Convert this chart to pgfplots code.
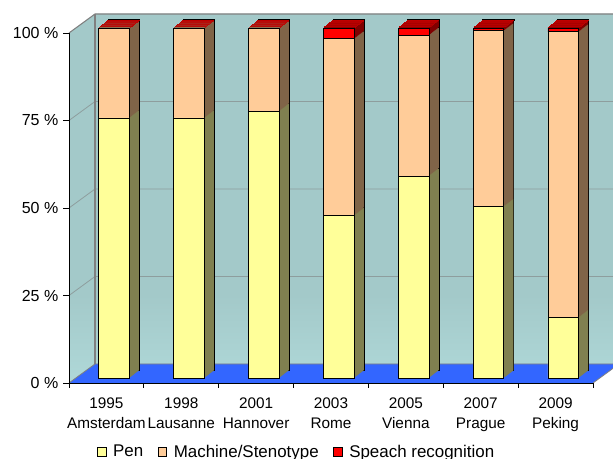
\documentclass[border=0pt]{standalone}
\usepackage{pgfplots}
\usepackage{pgfplotstable}
\pgfplotsset{compat=1.18}
\usepackage{fontspec}
\setmainfont{Liberation Sans}

\definecolor{penF}{HTML}{FFFF99}
\definecolor{penS}{HTML}{808050}
\definecolor{macF}{HTML}{FFCC99}
\definecolor{macS}{HTML}{806448}
\definecolor{spF}{HTML}{FF0000}
\definecolor{spS}{HTML}{800000}
\definecolor{spT}{HTML}{C00000}
\definecolor{wall}{HTML}{A3C9C9}
\definecolor{wallb}{HTML}{C8F8F8}
\definecolor{floorc}{HTML}{3366FF}
\definecolor{gridc}{HTML}{8E9E9E}

\pgfdeclareverticalshading{wallshade}{100bp}{color(0bp)=(wallb); color(37bp)=(wall); color(100bp)=(wall)}

% cap = near-zero helper row that marks the top face of each column
\pgfplotstableread{
x pen mac sp cap
0 74.3 25.7 0 0.001
1 74.3 25.7 0 0.001
2 76.2 23.8 0 0.001
3 46.4 50.5 3.1 0.001
4 57.7 40.2 2.1 0.001
5 49.0 50.2 0.8 0.001
6 17.3 81.6 1.1 0.001
}\data

\pgfplotsset{
  layer/.style={at={#1}, anchor=south west, scale only axis,
    width=393pt, height=262.5pt, xmin=-0.5, xmax=6.5, ymin=0, ymax=100,
    hide axis, clip=false, ybar stacked, bar width=23pt,
    every axis plot/.append style={line width=0.6pt}}
}

\begin{document}
\begin{tikzpicture}
\useasboundingbox (-51.75pt,-57pt) rectangle (408pt,287.25pt);
\begin{axis}[
  at={(0,0)}, anchor=south west, scale only axis,
  width=393pt, height=262.5pt,
  xmin=-0.5, xmax=6.5, ymin=0, ymax=100,
  clip=false, axis on top,
  axis x line*=bottom, axis y line*=left,
  axis line style={black, line width=0.6pt, -},
  tick align=outside,
  xtick={0,...,6},
  xticklabels={{1995\\Amsterdam},{1998\\Lausanne},{2001\\Hannover},{2003\\Rome},{2005\\Vienna},{2007\\Prague},{2009\\Peking}},
  xticklabel style={align=center, font=\fontsize{11.5}{15}\selectfont, yshift=-3pt},
  major x tick style={draw=none},
  minor xtick={-0.5,0.5,...,6.5},
  minor x tick style={black, line width=0.6pt},
  minor tick length=3.75pt,
  major tick length=4.5pt,
  ytick={0,25,50,75,100},
  yticklabels={0 \%,25 \%,50 \%,75 \%,100 \%},
  yticklabel style={font=\fontsize{12}{15}\selectfont},
  y tick style={black, line width=0.6pt},
  legend style={at={(0.434,0)}, anchor=center, yshift=-51.75pt, draw=none, fill=none,
    font=\fontsize{12.7}{15}\selectfont, legend columns=-1,
    nodes={inner xsep=1pt},
    /tikz/every odd column/.append style={column sep=4pt},
    /tikz/every even column/.append style={column sep=10pt}},
  legend image code/.code={\draw[#1, line width=0.5pt] (0pt,-3.2pt) rectangle (6.4pt,3.2pt);},
]
% back wall and side wall
\fill[wall] (axis cs:-0.5,0) -- (axis cs:-0.5,100) -- ([shift={(19.5pt,14.25pt)}]axis cs:-0.5,100) -- ([shift={(19.5pt,14.25pt)}]axis cs:6.5,100) -- ([shift={(19.5pt,14.25pt)}]axis cs:6.5,0) -- cycle;
\shade[shading=wallshade] (axis cs:-0.5,0) -- (axis cs:-0.5,100) -- ([shift={(19.5pt,14.25pt)}]axis cs:-0.5,100) -- ([shift={(19.5pt,14.25pt)}]axis cs:6.5,100) -- ([shift={(19.5pt,14.25pt)}]axis cs:6.5,0) -- cycle;
% grid lines
\pgfplotsinvokeforeach{25,50,75}{
  \draw[gridc, line width=0.6pt] (axis cs:-0.5,#1) -- ([shift={(19.5pt,14.25pt)}]axis cs:-0.5,#1) -- ([shift={(19.5pt,14.25pt)}]axis cs:6.5,#1);
}
\draw[gray, line width=0.8pt] (axis cs:-0.5,100) -- ([shift={(19.5pt,14.25pt)}]axis cs:-0.5,100) -- ([shift={(19.5pt,14.25pt)}]axis cs:6.5,100);
\draw[gray, line width=0.8pt] ([shift={(19.5pt,14.25pt)}]axis cs:-0.5,0) -- ([shift={(19.5pt,14.25pt)}]axis cs:-0.5,100);
% floor
\fill[floorc] (axis cs:-0.5,0) -- (axis cs:6.5,0) -- ([shift={(19.5pt,14.25pt)}]axis cs:6.5,0) -- ([shift={(19.5pt,14.25pt)}]axis cs:-0.5,0) -- cycle;
\draw[gray, line width=0.6pt] (axis cs:6.5,0) -- ([shift={(19.5pt,14.25pt)}]axis cs:6.5,0) -- ([shift={(19.5pt,14.25pt)}]axis cs:-0.5,0) -- (axis cs:-0.5,0);
\addlegendimage{fill=penF, draw=black}
\addlegendentry{Pen}
\addlegendimage{fill=macF, draw=black}
\addlegendentry{Machine/Stenotype}
\addlegendimage{fill=spF, draw=black}
\addlegendentry{Speach recognition}
\end{axis}

% backmost extrusion layer, with outlines
\begin{axis}[layer={(13.3pt,9.55pt)}]
\addplot[fill=penS, draw=black] table[x=x, y=pen]{\data};
\addplot[fill=macS, draw=black] table[x=x, y=mac]{\data};
\addplot[fill=spS, draw=black] table[x=x, y=sp]{\data};
\addplot[fill=none, draw=black, line width=1.2pt] table[x=x, y=cap]{\data};
\end{axis}
% extrusion layers (depth of the columns)
\foreach \k in {7.6,7.2,...,0.4} {
\begin{axis}[layer={(5.8pt+0.9375pt*\k,3.75pt+0.725pt*\k)}]
\addplot[fill=penS, draw=none] table[x=x, y=pen]{\data};
\addplot[fill=macS, draw=none] table[x=x, y=mac]{\data};
\addplot[fill=spS, draw=none] table[x=x, y=sp]{\data};
\addplot[fill=none, draw=spT, line width=0.8pt] table[x=x, y=cap]{\data};
\end{axis}
}

% front faces
\begin{axis}[layer={(5.8pt,3.75pt)}]
\addplot[fill=penF, draw=black] table[x=x, y=pen]{\data};
\addplot[fill=macF, draw=black] table[x=x, y=mac]{\data};
\addplot[fill=spF, draw=black] table[x=x, y=sp]{\data};
\end{axis}
\end{tikzpicture}
\end{document}
